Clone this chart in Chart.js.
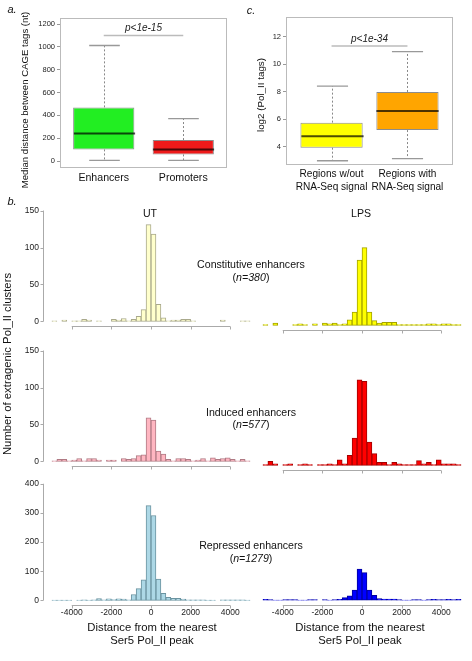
<!DOCTYPE html>
<html>
<head>
<meta charset="utf-8">
<script src="https://cdn.jsdelivr.net/npm/chart.js@4"></script>
<style>
body { margin:0; width:472px; height:661px; overflow:hidden; position:relative; background:#fff;
       font-family: Arial, "Liberation Sans", sans-serif; color:#111; }
canvas { position:absolute; }
.t { position:absolute; transform:translate(-50%,-50%); white-space:nowrap; line-height:1; }
.rot { transform:translate(-50%,-50%) rotate(-90deg); }
.lab { font-size:10.6px; }
.big { font-size:11.3px; }
.let { font-size:11px; font-style:italic; }
</style>
</head>
<body>
<canvas id="boxA" width="214" height="178" style="left:15px;top:10px"></canvas>
<canvas id="boxC" width="204" height="188" style="left:251px;top:9px"></canvas>

<canvas id="utConst" width="258" height="140" style="left:0;top:196px"></canvas>
<canvas id="lpsConst" width="214" height="140" style="left:255px;top:196px"></canvas>
<canvas id="utInd" width="258" height="140" style="left:0;top:336px"></canvas>
<canvas id="lpsInd" width="214" height="140" style="left:255px;top:336px"></canvas>
<canvas id="utRep" width="258" height="152" style="left:0;top:469px"></canvas>
<canvas id="lpsRep" width="214" height="152" style="left:255px;top:469px"></canvas>

<div class="t let" style="left:12px;top:9px">a.</div>
<div class="t let" style="left:12px;top:201px">b.</div>
<div class="t let" style="left:251px;top:10px">c.</div>

<div class="t rot" style="left:25px;top:100px;font-size:9.6px">Median distance between CAGE tags (nt)</div>
<div class="t rot" style="left:261px;top:95px;font-size:9.8px">log2 (Pol_II tags)</div>

<div class="t lab" style="left:150px;top:213px">UT</div>
<div class="t lab" style="left:361px;top:213px">LPS</div>

<div class="t lab" style="left:251px;top:264px">Constitutive enhancers</div>
<div class="t lab" style="left:251px;top:277px">(<i>n=380</i>)</div>
<div class="t lab" style="left:251px;top:412px">Induced enhancers</div>
<div class="t lab" style="left:251px;top:424px">(<i>n=577</i>)</div>
<div class="t lab" style="left:251px;top:545px">Repressed enhancers</div>
<div class="t lab" style="left:251px;top:558px">(<i>n=1279</i>)</div>

<div class="t big rot" style="left:7.5px;top:364px">Number of extragenic Pol_II clusters</div>
<div class="t big" style="left:152px;top:628px">Distance from the nearest</div>
<div class="t big" style="left:152px;top:641px">Ser5 Pol_II peak</div>
<div class="t big" style="left:360px;top:628px">Distance from the nearest</div>
<div class="t big" style="left:360px;top:641px">Ser5 Pol_II peak</div>

<script>
// ── Panel a: distance between CAGE tags ───────────
var aCats  = ['Enhancers', 'Promoters'];
var aLow   = [5, 5];
var aQ1    = [102, 58];
var aMed   = [242, 102];
var aQ3    = [470, 184];
var aHigh  = [1012, 372];
var aTicks = [0, 200, 400, 600, 800, 1000, 1200];

// ── Panel c: Pol_II tags ──────────────────────────
var cCats  = [['Regions w/out', 'RNA-Seq signal'], ['Regions with', 'RNA-Seq signal']];
var cLow   = [2.98, 3.13];
var cQ1    = [3.93, 5.21];
var cMed   = [4.76, 6.6];
var cQ3    = [5.75, 7.98];
var cHigh  = [8.41, 10.91];
var cTicks = [4, 6, 8, 10, 12];

// ── Panel b: histograms, 250 bp bins ──────────────
var binMids = [-4875, -4625, -4375, -4125, -3875, -3625, -3375, -3125, -2875, -2625,
               -2375, -2125, -1875, -1625, -1375, -1125, -875, -625, -375, -125,
               125, 375, 625, 875, 1125, 1375, 1625, 1875, 2125, 2375,
               2625, 2875, 3125, 3375, 3625, 3875, 4125, 4375, 4625, 4875];
var distTicks  = [-4000, -2000, 0, 2000, 4000];
var smallTicks = [0, 50, 100, 150];
var repTicks   = [0, 100, 200, 300, 400];

var utConst  = [1,0,2,0,1,1,3,2,0,1, 0,0,3,2,4,1,3,7,16,131, 118,23,5,1,2,2,3,3,1,0, 0,0,0,0,2,0,0,0,1,1];
var lpsConst = [1,0,3,0,0,0,1,2,1,0, 2,0,3,2,3,1,2,7,17,84, 100,17,6,3,4,4,4,1,1,1, 1,1,1,2,2,1,2,2,1,1];
var utInd    = [1,3,3,1,2,4,1,4,4,2, 0,2,2,0,4,3,4,8,9,59, 56,14,10,3,1,4,4,3,1,2, 4,1,5,3,4,5,3,1,3,1];
var lpsInd   = [1,5,2,0,1,2,0,1,2,1, 0,1,1,2,1,7,2,13,35,110, 108,30,15,4,4,1,4,2,1,1, 1,6,2,4,1,7,2,2,2,1];
var utRep    = [1,1,1,1,0,1,2,1,2,6, 2,5,3,5,4,2,20,40,70,325, 291,73,24,10,7,7,4,2,2,2, 2,1,1,0,2,2,2,2,2,1];
var lpsRep   = [3,2,1,1,2,2,2,1,1,2, 2,0,2,1,2,3,9,15,34,105, 93,34,17,6,4,4,4,2,1,1, 2,2,1,2,3,2,2,3,2,3];

var FAMILY   = 'Arial, "Liberation Sans", sans-serif';
var tickFont = { family: FAMILY, size: 7.5 };
function plain(v) { return String(v); }

// frame + whiskers + median + p-value bar
var boxPlugin = {
  id: 'boxWhiskers',
  beforeDatasetsDraw: function(chart) {
    var ctx = chart.ctx, a = chart.chartArea;
    ctx.save();
    ctx.strokeStyle = '#bbb';
    ctx.lineWidth = 1;
    ctx.strokeRect(Math.round(a.left) + 0.5, Math.round(a.top) + 0.5, Math.round(a.width) - 1, Math.round(a.height) - 1);
    ctx.restore();
  },
  afterDatasetsDraw: function(chart) {
    var o = chart.options.plugins.boxWhiskers;
    var ctx = chart.ctx, x = chart.scales.x, y = chart.scales.y;
    var meta = chart.getDatasetMeta(0);
    ctx.save();
    o.low.forEach(function(lo, i) {
      var bar = meta.data[i];
      var cx = Math.round(bar.x) + 0.5, half = bar.width / 2;
      ctx.strokeStyle = '#888';
      ctx.lineWidth = 1;
      ctx.setLineDash([2, 2]);
      ctx.beginPath();
      ctx.moveTo(cx, y.getPixelForValue(o.q3[i]));
      ctx.lineTo(cx, y.getPixelForValue(o.high[i]));
      ctx.moveTo(cx, y.getPixelForValue(o.q1[i]));
      ctx.lineTo(cx, y.getPixelForValue(lo));
      ctx.stroke();
      ctx.setLineDash([]);
      ctx.strokeStyle = '#999';
      ctx.lineWidth = 1.3;
      ctx.beginPath();
      ctx.moveTo(cx - half / 2, y.getPixelForValue(o.high[i]));
      ctx.lineTo(cx + half / 2, y.getPixelForValue(o.high[i]));
      ctx.moveTo(cx - half / 2, y.getPixelForValue(lo));
      ctx.lineTo(cx + half / 2, y.getPixelForValue(lo));
      ctx.stroke();
      ctx.strokeStyle = 'rgba(0,0,0,0.7)';
      ctx.lineWidth = 2;
      ctx.beginPath();
      ctx.moveTo(cx - half, y.getPixelForValue(o.med[i]));
      ctx.lineTo(cx + half, y.getPixelForValue(o.med[i]));
      ctx.stroke();
    });
    var py = y.getPixelForValue(o.pY);
    ctx.strokeStyle = '#bbb';
    ctx.lineWidth = 1.5;
    ctx.beginPath();
    ctx.moveTo(x.getPixelForValue(1), py);
    ctx.lineTo(x.getPixelForValue(2), py);
    ctx.stroke();
    ctx.fillStyle = '#222';
    ctx.font = 'italic 10px ' + FAMILY;
    ctx.textAlign = 'center';
    ctx.textBaseline = 'middle';
    ctx.fillText(o.pText, (x.getPixelForValue(1) + x.getPixelForValue(2)) / 2, py - 7);
    ctx.restore();
  }
};

function boxChart(id, cats, low, q1, med, q3, high, yTicks, yMin, yMax, xMin, xMax, barPct, colors, yW, xH, labSize, pY, pText) {
  return new Chart(document.getElementById(id), {
    type: 'bar',
    data: {
      datasets: [{
        data: q1.map(function(v, i){ return { x: i + 1, y: [v, q3[i]] }; }),
        backgroundColor: colors,
        borderColor: 'rgba(0,0,0,0.45)',
        borderWidth: 1,
        borderSkipped: false,
        barPercentage: barPct,
        categoryPercentage: 1
      }]
    },
    options: {
      responsive: false,
      animation: false,
      layout: { padding: { top: 8, right: 2, left: 0, bottom: 0 } },
      plugins: {
        legend: { display: false },
        tooltip: { enabled: false },
        boxWhiskers: { low: low, q1: q1, med: med, q3: q3, high: high, pY: pY, pText: pText }
      },
      scales: {
        x: {
          type: 'linear', min: xMin, max: xMax, offset: false,
          grid: { display: false, drawTicks: false }, border: { display: false },
          afterBuildTicks: function(s){ s.ticks = [{ value: 1 }, { value: 2 }]; },
          ticks: { color: '#111', font: { family: FAMILY, size: labSize, lineHeight: 1.25 },
                   padding: 3, maxRotation: 0, autoSkip: false,
                   callback: function(v){ return cats[v - 1]; } },
          afterFit: function(s){ s.height = xH; }
        },
        y: {
          min: yMin, max: yMax,
          grid: { drawOnChartArea: false, drawTicks: true, tickLength: 3, color: '#999' },
          border: { display: false },
          afterBuildTicks: function(s){ s.ticks = yTicks.map(function(v){ return { value: v }; }); },
          ticks: { color: '#222', font: tickFont, padding: 2, callback: plain },
          afterFit: function(s){ s.width = yW; }
        }
      }
    },
    plugins: [boxPlugin]
  });
}

boxChart('boxA', aCats, aLow, aQ1, aMed, aQ3, aHigh, aTicks, -61, 1253, 0.45, 2.55, 0.77,
         ['#22ee22', '#ee1a1a'], 45, 20, 10.6, 1100, 'p<1e-15');
boxChart('boxC', cCats, cLow, cQ1, cMed, cQ3, cHigh, cTicks, 2.67, 13.43, 0.4, 2.6, 0.82,
         ['#ffff00', '#ffa500'], 35, 32, 10.1, 11.33, 'p<1e-34');

// R-style axis lines for the histograms
var rAxes = {
  id: 'rAxes',
  afterDraw: function(chart) {
    var o = chart.options.plugins.rAxes;
    var ctx = chart.ctx, x = chart.scales.x, y = chart.scales.y, a = chart.chartArea;
    ctx.save();
    ctx.strokeStyle = '#aaa';
    ctx.lineWidth = 1;
    ctx.beginPath();
    var by = Math.round(a.bottom) + 0.5;
    ctx.moveTo(x.getPixelForValue(distTicks[0]), by);
    ctx.lineTo(x.getPixelForValue(distTicks[distTicks.length - 1]), by);
    distTicks.forEach(function(v){
      var px = Math.round(x.getPixelForValue(v)) + 0.5;
      ctx.moveTo(px, by);
      ctx.lineTo(px, by + 3);
    });
    if (o.showY) {
      var lx = Math.round(a.left) - 0.5;
      ctx.moveTo(lx, y.getPixelForValue(o.yTicks[0]));
      ctx.lineTo(lx, y.getPixelForValue(o.yTicks[o.yTicks.length - 1]));
      o.yTicks.forEach(function(v){
        var py = Math.round(y.getPixelForValue(v)) + 0.5;
        ctx.moveTo(lx, py);
        ctx.lineTo(lx - 3, py);
      });
    }
    ctx.stroke();
    ctx.restore();
  }
};

function histChart(id, counts, fill, edge, yMin, yMax, yTicks, showY, showX) {
  return new Chart(document.getElementById(id), {
    type: 'bar',
    data: {
      datasets: [{
        data: binMids.map(function(m, i){ return { x: m, y: counts[i] }; }),
        backgroundColor: fill,
        borderColor: edge,
        borderWidth: 1,
        borderSkipped: false,
        barPercentage: 1,
        categoryPercentage: 1
      }]
    },
    options: {
      responsive: false,
      animation: false,
      layout: { padding: { top: 8, right: 0, left: 0, bottom: 0 } },
      plugins: {
        legend: { display: false },
        tooltip: { enabled: false },
        rAxes: { showY: showY, yTicks: yTicks }
      },
      scales: {
        x: {
          type: 'linear', min: -5400, max: 5400, offset: false,
          grid: { display: false, drawTicks: false }, border: { display: false },
          afterBuildTicks: function(s){ s.ticks = distTicks.map(function(v){ return { value: v }; }); },
          ticks: { display: showX, color: '#222', padding: 3, maxRotation: 0, autoSkip: false,
                   font: { family: FAMILY, size: 8.5 }, callback: plain },
          afterFit: function(s){ s.height = showX ? 16 : 6; }
        },
        y: {
          display: showY,
          min: yMin, max: yMax,
          grid: { display: false, drawTicks: false }, border: { display: false },
          afterBuildTicks: function(s){ s.ticks = yTicks.map(function(v){ return { value: v }; }); },
          ticks: { color: '#222', padding: 5, font: { family: FAMILY, size: 8.5 }, callback: plain },
          afterFit: function(s){ s.width = showY ? 44 : 0; }
        }
      }
    },
    plugins: [rAxes]
  });
}

histChart('utConst',  utConst,  '#ffffcc', '#a9a98c', -6, 156, smallTicks, true,  false);
histChart('lpsConst', lpsConst, '#ffff00', '#a3a300', -6, 156, smallTicks, false, false);
histChart('utInd',    utInd,    '#ffb6c1', '#b07a84', -6, 156, smallTicks, true,  false);
histChart('lpsInd',   lpsInd,   '#ff0000', '#a30000', -6, 156, smallTicks, false, false);
histChart('utRep',    utRep,    '#add8e6', '#6b93a0', -16, 416, repTicks,  true,  true);
histChart('lpsRep',   lpsRep,   '#0000ff', '#0000a0', -16, 416, repTicks,  false, true);
</script>
</body>
</html>
